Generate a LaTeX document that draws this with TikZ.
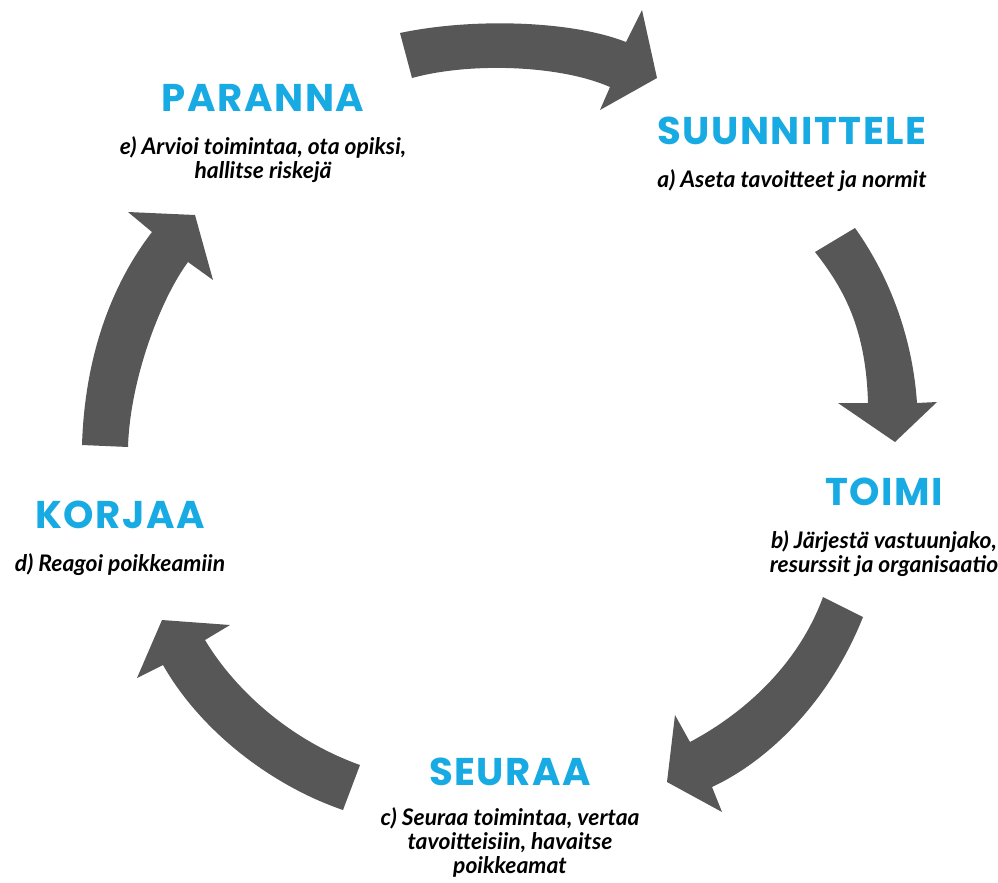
\documentclass[tikz,border=0pt]{standalone}
\usepackage{fontspec}
\setmainfont{Lato}
\newfontfamily\headfont{Poppins}[LetterSpace=4]
\usetikzlibrary{positioning}
\definecolor{cycleblue}{RGB}{24,170,226}
\definecolor{arrowgray}{RGB}{87,87,87}

\begin{document}
\begin{tikzpicture}[x=0.03cm,y=-0.03cm,node distance=21pt,
  phase/.style={text=cycleblue,font=\headfont\bfseries\fontsize{33}{36}\selectfont,inner sep=0pt},
  task/.style={font=\bfseries\itshape\fontsize{19.5}{20.5}\selectfont,align=center,inner sep=0pt},
  cyclearrow/.style={fill=arrowgray}]
\useasboundingbox (0,0) rectangle (998,882);
\fill[cyclearrow] (400,33) .. controls (470,18) and (570,20) .. (626,42) -- (642,10) -- (657,78) -- (600,110) -- (610,87) .. controls (560,65) and (470,62) .. (412,78) -- cycle;
\fill[cyclearrow] (815,252) -- (855,228) .. controls (885,270) and (912,330) .. (917,403) -- (937,402) -- (895,442) -- (838,403) -- (868,403) .. controls (866,330) and (845,290) .. (815,252) -- cycle;
\fill[cyclearrow] (823,597) -- (863,617) .. controls (830,700) and (770,760) .. (712,787) -- (722,812) -- (667,782) -- (675,715) -- (690,742) .. controls (750,710) and (800,660) .. (823,597) -- cycle;
\fill[cyclearrow] (360,765) -- (343,810) .. controls (270,785) and (200,730) .. (163,665) -- (137,678) -- (162,620) -- (230,625) -- (205,640) .. controls (235,690) and (290,740) .. (360,765) -- cycle;
\fill[cyclearrow] (82,445) .. controls (85,350) and (115,280) .. (152,232) -- (128,212) -- (195,215) -- (213,280) -- (188,262) .. controls (160,300) and (130,380) .. (128,447) -- cycle;

\node[phase] (suunnittele) at (792,131) {SUUNNITTELE};
\node[task,below=of suunnittele] (a) {a) Aseta tavoitteet ja normit};
\node[phase] (toimi) at (884,492) {TOIMI};
\node[task,below=of toimi] (b) {b) Järjestä vastuunjako,\\resurssit ja organisaatio};
\node[phase] (seuraa) at (510,772) {SEURAA};
\node[task,below=18pt of seuraa] (c) {c) Seuraa toimintaa, vertaa\\tavoitteisiin, havaitse\\poikkeamat};
\node[phase] (korjaa) at (120,515) {KORJAA};
\node[task,below=of korjaa] (d) {d) Reagoi poikkeamiin};
\node[phase] (paranna) at (263,98) {PARANNA};
\node[task,below=of paranna] (e) {e) Arvioi toimintaa, ota opiksi,\\hallitse riskejä};
\end{tikzpicture}
\end{document}
